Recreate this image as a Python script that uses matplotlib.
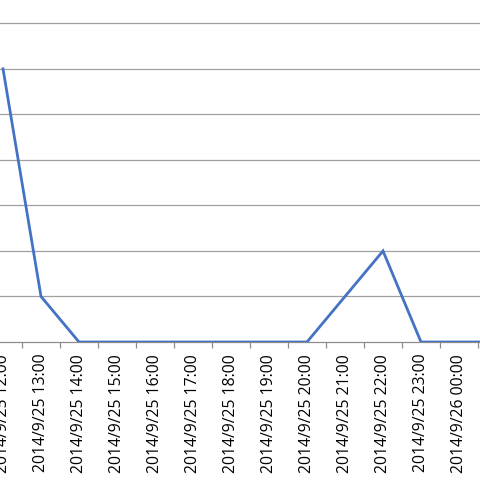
import matplotlib
matplotlib.use("Agg")
import matplotlib.pyplot as plt
import numpy as np

categories = ["2014/9/25 12:00", "2014/9/25 13:00", "2014/9/25 14:00", "2014/9/25 15:00",
              "2014/9/25 16:00", "2014/9/25 17:00", "2014/9/25 18:00", "2014/9/25 19:00",
              "2014/9/25 20:00", "2014/9/25 21:00", "2014/9/25 22:00", "2014/9/25 23:00",
              "2014/9/26 00:00", "2014/9/26 01:00"]
values = [6, 1, 0, 0, 0, 0, 0, 0, 0, 1, 2, 0, 0, 0]
y_gridlines = [1, 2, 3, 4, 5, 6, 7]

fig = plt.figure(figsize=(4.8, 4.8), dpi=100)
ax = fig.add_axes([0, 0.2875, 1, 0.7125])

x = np.arange(len(categories))
ax.plot(x, values, color="#4472C4", linewidth=2.0, solid_joinstyle="miter", zorder=3)

for g in y_gridlines:
    ax.axhline(g, color="#A0A0A0", linewidth=0.9, zorder=1)

for s in ["top", "right", "left"]:
    ax.spines[s].set_visible(False)
ax.spines["bottom"].set_color("#8C8C8C")
ax.spines["bottom"].set_linewidth(0.9)

ax.set_yticks([])
ax.set_xticks(x[:-1] + 0.5)
ax.set_xticklabels([])
ax.tick_params(axis="x", which="major", length=4, color="#8C8C8C", width=0.9)
ax.set_xticks(x, minor=True)
ax.set_xticklabels(categories, minor=True, rotation=90, fontsize=11.3,
                   family=["Open Sans", "DejaVu Sans"], color="#000000")
ax.tick_params(axis="x", which="minor", length=0, pad=8.5)

ax.set_xlim(-3/38, 477/38)
ax.set_ylim(0, 342/45.53)

fig.savefig("out.png", dpi=100)
